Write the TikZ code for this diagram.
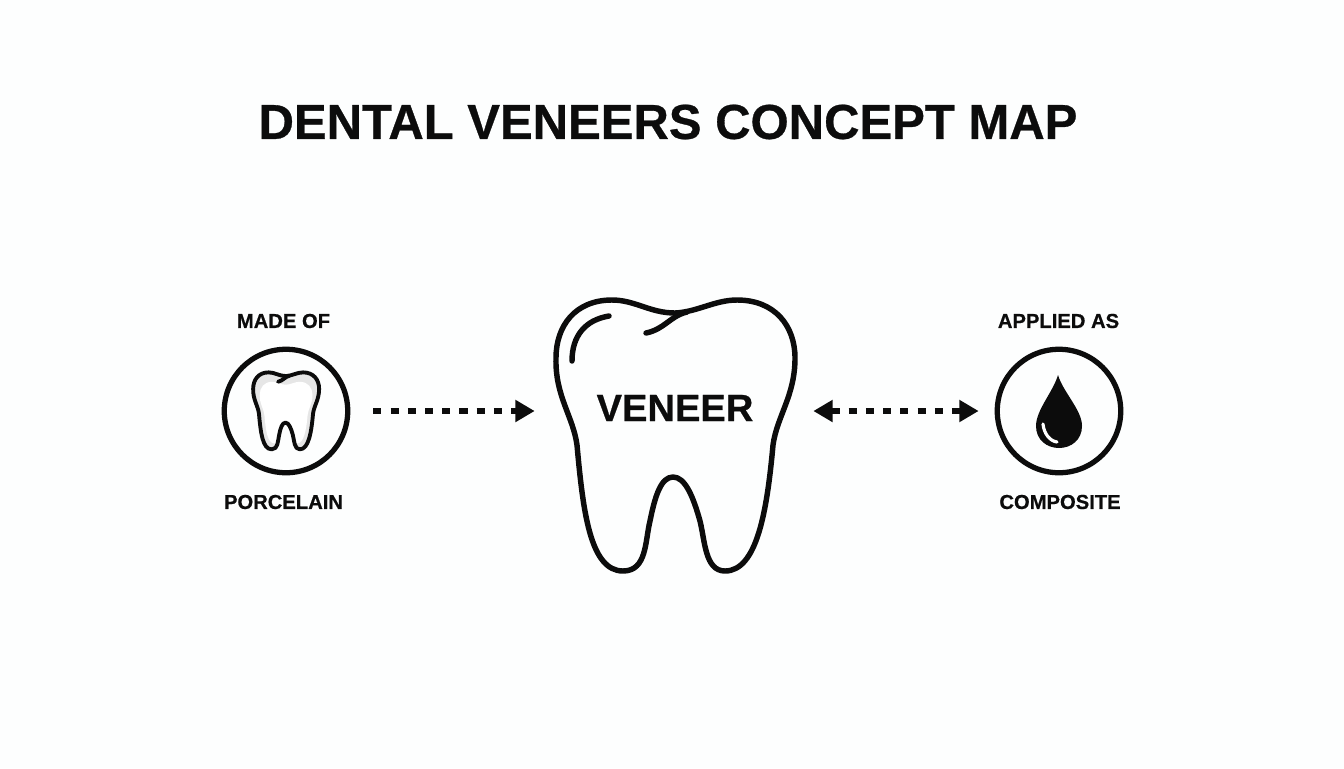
\documentclass[tikz,border=0pt]{standalone}
\usepackage{fontspec}
\setmainfont[BoldFeatures={FakeBold=0.6}]{Liberation Sans}
\usetikzlibrary{arrows.meta}
\definecolor{paper}{HTML}{FDFEFE}
\definecolor{ink}{HTML}{0C0C0C}
\definecolor{toothgrey}{HTML}{E6E6E6}
\tikzstyle{title} = [text=ink, font=\fontsize{27.9}{30}\selectfont\bfseries]
\tikzstyle{label} = [text=ink, font=\fontsize{11.5}{13}\selectfont\bfseries]
\tikzstyle{centre} = [text=ink, inner sep=0pt, minimum width=4.88cm, text depth=.12cm, align=center, font=\fontsize{21.7}{24}\selectfont\bfseries]
\tikzstyle{badge} = [circle, draw=ink, line width=3pt, minimum size=2.47cm, inner sep=0pt]
\tikzstyle{outline} = [draw=ink, line width=3.1pt, line join=round, line cap=round]
\tikzstyle{thinline} = [draw=ink, line width=2.2pt, line join=round, line cap=round]
\tikzstyle{arrow} = [draw=ink, line width=3.1pt, dash pattern=on 4.6pt off 5.2pt, -{Triangle[length=11pt,width=12pt]}]
\tikzstyle{twoway} = [draw=ink, line width=3.1pt, dash pattern=on 4.6pt off 5.2pt, {Triangle[length=11pt,width=12pt]}-{Triangle[length=11pt,width=12pt]}]
\newcommand{\toothshape}{(0,-123) .. controls (22,-124) and (40,-136) .. (62,-136)
  .. controls (100,-136) and (120,-110) .. (120,-78)
  .. controls (120,-40) and (102,-20) .. (98,9)
  .. controls (92,75) and (82,135) .. (50,135)
  .. controls (30,135) and (30,105) .. (25,85)
  .. controls (18,60) and (10,41) .. (-2,41)
  .. controls (-14,41) and (-20,60) .. (-25,85)
  .. controls (-30,105) and (-28,135) .. (-52,135)
  .. controls (-85,135) and (-92,75) .. (-98,9)
  .. controls (-102,-20) and (-120,-40) .. (-119,-78)
  .. controls (-119,-110) and (-100,-136) .. (-63,-136)
  .. controls (-40,-136) and (-25,-123) .. (0,-123) -- cycle}
\newcommand{\toothnotch}{(12,-124) .. controls (-5,-120) and (-10,-107) .. (-29,-103)}
\begin{document}
\begin{tikzpicture}[x=0.02cm,y=-0.02cm]
        \fill [paper] (0,0) rectangle (1344,768);
        \useasboundingbox (0,0) rectangle (1344,768);
        \node [title] at (668,122) (heading) {DENTAL VENEERS CONCEPT MAP};
        \begin{scope}[shift={(675,436)}]
                \draw [outline] \toothshape;
                \draw [outline] \toothnotch;
                \draw [outline] (-103,-75) .. controls (-103,-100) and (-90,-116) .. (-66,-120);
        \end{scope}
        \node [centre] at (675,411) (veneer) {VENEER};
        \node [badge] at (286,411) (made) {};
        \node [badge] at (1059,411) (applied) {};
        \node [label] at (283.5,321) (madeof) {MADE OF};
        \node [label] at (283.5,502) (porcelain) {PORCELAIN};
        \node [label] at (1058.5,321) (appliedas) {APPLIED AS};
        \node [label] at (1060,502) (composite) {COMPOSITE};
        \begin{scope}[shift={(286,411)}, xscale=.276, yscale=.284]
                \fill [toothgrey] \toothshape;
                \fill [white, shift={(0,6)}, xscale=.8, yscale=.8] \toothshape;
                \draw [thinline] \toothshape;
                \draw [thinline] \toothnotch;
        \end{scope}
        \fill [ink] (1058,375) .. controls (1053,392) and (1036,410) .. (1036,426)
                .. controls (1036,440) and (1047,448) .. (1059,448)
                .. controls (1071,448) and (1082,440) .. (1082,426)
                .. controls (1082,410) and (1063,392) .. (1058,375) -- cycle;
        \draw [white, line width=1.8pt, line cap=round] (1043,424) .. controls (1044,434) and (1050,441) .. (1057,442);
        \draw [arrow, shorten <=.46cm, shorten >=.36cm] (made) -- (veneer);
        \draw [twoway, shorten <=.32cm, shorten >=.32cm] (veneer) -- (applied);
\end{tikzpicture}
\end{document}
